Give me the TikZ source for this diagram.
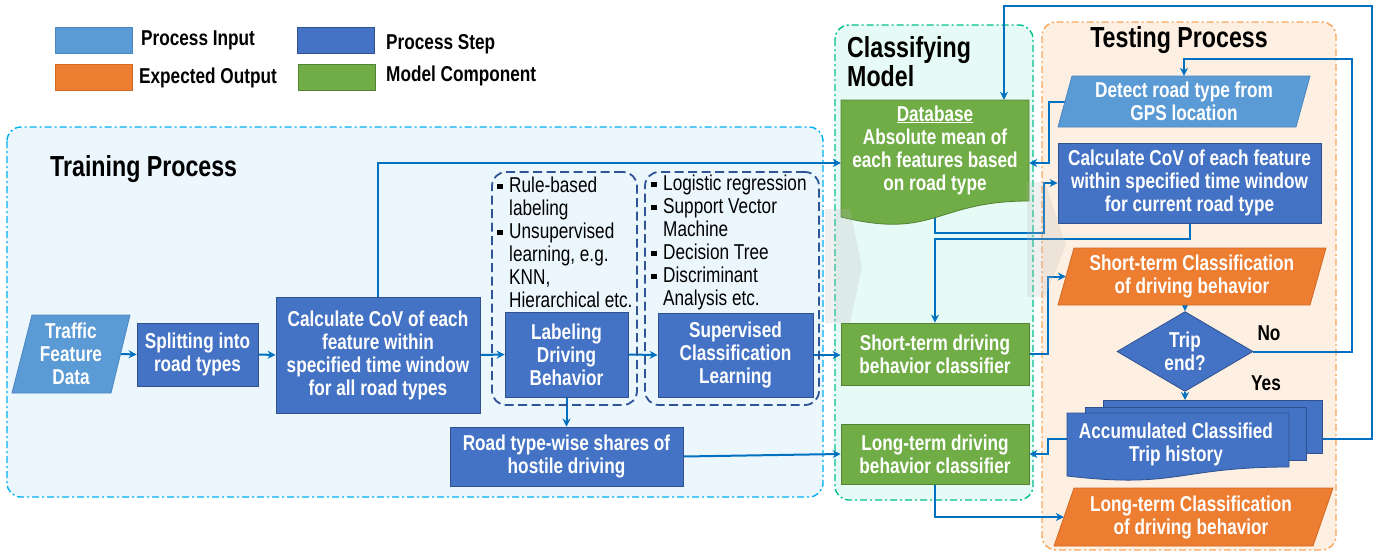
\documentclass[tikz,border=0pt]{standalone}
\usepackage{fontspec}
\setmainfont{Liberation Sans}[FakeStretch=0.8]
\usetikzlibrary{arrows.meta,shapes.geometric,calc}
\pgfdeclarelayer{back}
\pgfdeclarelayer{conn}
\pgfsetlayers{back,conn,main}
\definecolor{cIn}{HTML}{5B9BD5}
\definecolor{cInD}{HTML}{4A86C0}
\definecolor{cStep}{HTML}{4472C4}
\definecolor{cStepD}{HTML}{2F528F}
\definecolor{cOut}{HTML}{ED7D31}
\definecolor{cOutD}{HTML}{D06A25}
\definecolor{cMod}{HTML}{70AD47}
\definecolor{cModD}{HTML}{548235}
\definecolor{cArr}{HTML}{0070C0}
\definecolor{cGrp}{HTML}{2F5597}
\definecolor{cTrB}{HTML}{00B0F0}
\definecolor{cTrF}{HTML}{EBF7FD}
\definecolor{cClB}{HTML}{00C08B}
\definecolor{cClF}{HTML}{E6FAF6}
\definecolor{cTeB}{HTML}{F5A65B}
\definecolor{cTeF}{HTML}{FDEFE2}
\newcommand\blt{\rule[3pt]{5.5pt}{5.5pt}}
\tikzset{
  base/.style={font=\bfseries\fontsize{21.5}{23}\selectfont, text=white, align=center, inner sep=0pt},
  stepbox/.style={base, fill=cStep, draw=cStepD, line width=0.8pt},
  modbox/.style={base, fill=cMod, draw=cModD, line width=0.8pt},
  arr/.style={draw=cArr, line width=2pt, -{Stealth[length=8pt,width=8pt]}},
  cont/.style={line width=1.4pt, rounded corners=14pt, dash pattern=on 7pt off 3pt on 2pt off 3pt},
  grp/.style={draw=cGrp, line width=1.8pt, dash pattern=on 9pt off 4.5pt, rounded corners=14pt, inner sep=0pt},
  lbl/.style={font=\bfseries\fontsize{21.5}{23}\selectfont, text=black, inner sep=0pt},
  lst/.style={font=\fontsize{21.5}{23}\selectfont, text=black, inner sep=0pt, anchor=north west},
  ttl/.style={font=\bfseries\fontsize{29}{29}\selectfont, text=black, inner sep=0pt, align=left},
  legbox/.style={minimum width=77pt, minimum height=26pt, inner sep=0pt, line width=0.6pt},
  shade/.style={fill=gray!55, opacity=0.22},
}
\begin{document}
\begin{tikzpicture}[x=1pt,y=-1pt]
\useasboundingbox (0,0) rectangle (1385,552);

% containers
\begin{pgfonlayer}{back}
\draw[cont, draw=cTrB, fill=cTrF] (7,127) rectangle (823,497);
\draw[cont, draw=cClB, fill=cClF] (835,25) rectangle (1033,500);
\draw[cont, draw=cTeB, fill=cTeF] (1042,22) rectangle (1336,550);
\end{pgfonlayer}

% legend
\node[legbox, fill=cIn, draw=cInD] (lgIn) at (93.5,40) {};
\node[lbl, anchor=west] (ltIn) at (141,40) {Process Input};
\node[legbox, fill=cStep, draw=cStepD] (lgStep) at (336,40) {};
\node[lbl, anchor=west] (ltStep) at (386,44) {Process Step};
\node[legbox, fill=cOut, draw=cOutD] (lgOut) at (93.5,77) {};
\node[lbl, anchor=west] (ltOut) at (139,78) {Expected Output};
\node[legbox, fill=cMod, draw=cModD] (lgMod) at (336.5,77) {};
\node[lbl, anchor=west] (ltMod) at (386,76) {Model Component};

% titles
\node[ttl, anchor=west] (tTrain) at (50,169) {Training Process};
\node[ttl, anchor=west] (tClass) at (847,62) {Classifying\\Model};
\node[ttl] (tTest) at (1179,40) {Testing Process};

% training process
\filldraw[fill=cIn, draw=cInD, line width=0.8pt] (32,315) -- (130,315) -- (111,393) -- (12,393) -- cycle;
\node[base, minimum width=100pt, minimum height=78pt] (tfd) at (71,354) {Traffic\\Feature\\Data};
\node[stepbox, minimum width=121pt, minimum height=63pt] (split) at (197.5,354.5) {Splitting into\\road types};
\node[stepbox, minimum width=204pt, minimum height=116pt] (cov1) at (378,355) {Calculate CoV of each\\feature within\\specified time window\\for all road types};

\node[grp, minimum width=145pt, minimum height=233pt] (labGrp) at (564.5,288.5) {};
\node[grp, minimum width=174pt, minimum height=233pt] (supGrp) at (732,288.5) {};

\node[lst] (labList) at (497,176) {\begin{tabular}{@{}l@{\hspace{6.5pt}}l@{}}
\blt & Rule-based\\ & labeling\\ \blt & Unsupervised\\ & learning, e.g.\\ & KNN,\\ & Hierarchical etc.\end{tabular}};
\node[lst] (supList) at (651,174) {\begin{tabular}{@{}l@{\hspace{6.5pt}}l@{}}
\blt & Logistic regression\\ \blt & Support Vector\\ & Machine\\ \blt & Decision Tree\\ \blt & Discriminant\\ & Analysis etc.\end{tabular}};

\node[stepbox, minimum width=123pt, minimum height=85pt] (lab) at (566.5,354.5) {Labeling\\Driving\\Behavior};
\node[stepbox, minimum width=155pt, minimum height=84pt] (sup) at (735.5,355) {Supervised\\Classification\\Learning};
\node[stepbox, minimum width=233pt, minimum height=59pt] (road) at (566.5,456.5) {Road type-wise shares of\\hostile driving};

% classifying model
\filldraw[fill=cMod, draw=cModD, line width=0.8pt] (841,100) -- (1029,100) -- (1029,201) .. controls (935,201) and (935,240) .. (841,217) -- cycle;
\node[base, minimum width=188pt, minimum height=100pt] (db) at (935,150) {\underline{Database}\\Absolute mean of\\each features based\\on road type};
\node[modbox, minimum width=188pt, minimum height=62pt] (st) at (935,354) {Short-term driving\\behavior classifier};
\node[modbox, minimum width=188pt, minimum height=60pt] (lt) at (935,454) {Long-term driving\\behavior classifier};

% testing process
\filldraw[fill=cIn, draw=cInD, line width=0.8pt] (1072,76) -- (1310,76) -- (1296,127) -- (1058,127) -- cycle;
\node[base, minimum width=238pt, minimum height=51pt] (detect) at (1184,101.5) {Detect road type from\\GPS location};
\node[stepbox, minimum width=263pt, minimum height=80pt] (cov2) at (1189.5,183) {Calculate CoV of each feature\\within specified time window\\for current road type};
\filldraw[fill=cOut, draw=cOutD, line width=0.8pt] (1074,248) -- (1326,248) -- (1310,305) -- (1058,305) -- cycle;
\node[base, minimum width=252pt, minimum height=57pt] (stc) at (1192,276.5) {Short-term Classification\\of driving behavior};
\node[base, shape=diamond, fill=cStep, draw=cStepD, line width=0.8pt, minimum width=136pt, minimum height=65pt] (dia) at (1185,351.5) {Trip\\end?};
\node[lbl] (lNo) at (1269,333) {No};
\node[lbl] (lYes) at (1266,383) {Yes};
\filldraw[fill=cStep, draw=cStepD, line width=0.8pt] (1103,400) rectangle (1322,453);
\filldraw[fill=cStep, draw=cStepD, line width=0.8pt] (1085,407) rectangle (1306,460);
\filldraw[fill=cStep, draw=cStepD, line width=0.8pt] (1067,413) -- (1289,413) -- (1289,467) .. controls (1178,467) and (1178,489) .. (1067,476) -- cycle;
\node[base, minimum width=222pt, minimum height=50pt] (acc) at (1176,444) {Accumulated Classified\\Trip history};
\coordinate (acctop) at (1185,400);
\filldraw[fill=cOut, draw=cOutD, line width=0.8pt] (1074,488) -- (1333,488) -- (1313,546) -- (1054,546) -- cycle;
\node[base, minimum width=254pt, minimum height=58pt] (ltc) at (1191,517) {Long-term Classification\\of driving behavior};

% connectors
\begin{pgfonlayer}{conn}
\draw[arr] (tfd.east) -- (split.west);
\draw[arr] (split.east) -- (cov1.west);
\draw[arr] (cov1.east) -- (lab.west);
\draw[arr] (lab.east) -- (sup.west);
\draw[arr] (sup.east) -- (sup.east -| st.west);
\draw[arr] (lab.south) -- (road.north);
\draw[arr] (road.east) -- (lt.west);
\draw[arr] (cov1.north) |- ($(db.west)+(0,13)$);
\draw[arr] (detect.west) -- (1049,101.5) |- ($(db.east)+(0,13)$);
\draw[arr] (db.south) |- (1044,233) |- (cov2.west);
\draw[arr] (cov2.south) -- ++(0,16) -| (st.north);
\draw[arr] (st.east) -- (1048,354) |- (stc.west);
\draw[arr] (stc.south -| dia.north) -- (dia.north);
\draw[arr] (dia.south) -- (acctop);
\draw[arr] (dia.east) -- (1352,351.5) -- (1352,59) -| (detect.north);
\draw[arr] ($(acc.east)+(35,-5)$) -- (1372,439) -- (1372,6) -| ($(db.north)+(69,0)$);
\draw[arr] ($(acc.west)+(2,-5)$) -- (1048,439) |- (lt.east);
\draw[arr] (lt.south) |- (ltc.west);
\end{pgfonlayer}

% faint grey block arrows
\fill[shade] (825,209) -- (850,209) -- (862,267) -- (850,323) -- (825,323) -- cycle;
\fill[shade] (1027,182) -- (1045,182) -- (1066,245) -- (1045,297) -- (1027,297) -- cycle;
\end{tikzpicture}
\end{document}
